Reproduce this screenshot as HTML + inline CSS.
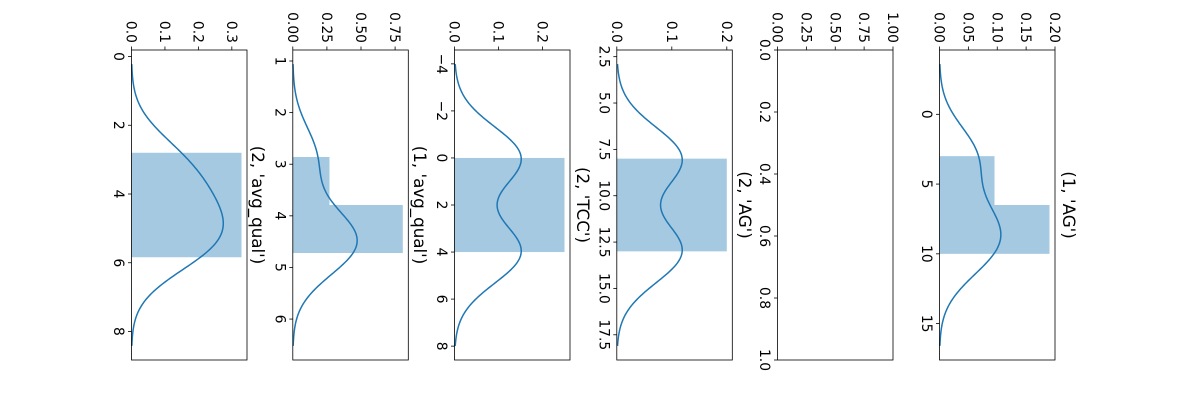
<!DOCTYPE html>
<html><head><meta charset="utf-8"><style>
html,body{margin:0;padding:0;background:#fff;width:1200px;height:400px;overflow:hidden}
text{font-family:"DejaVu Sans","Liberation Sans",sans-serif;fill:#000}
</style></head><body>
<svg id="chart" width="1200" height="400" xmlns="http://www.w3.org/2000/svg">
<g id="root" transform="translate(1200,0) rotate(90)"></g>
</svg>
<script>
// Data per panel
const titles = ["(1, 'AG')", "", "(2, 'AG')", "(2, 'TCC')", "(1, 'avg_qual')", "(2, 'avg_qual')"];
const samplesP1 = [3, 7.6, 10];
const samplesP2 = [];
const samplesP3 = [8, 13];
const samplesP4 = [0, 4];
const samplesP5 = [2.86, 4.2, 4.55, 4.72];
const samplesP6 = [2.8, 3.6, 4.3, 4.9, 5.4, 5.84];
const bandwidths = [2.2, 0, 1.7, 1.33, 0.6, 0.86];
const binCounts = [2, 0, 1, 1, 2, 1];
const xTickValues = [[0,5,10,15],[0,0.2,0.4,0.6,0.8,1.0],[2.5,5,7.5,10,12.5,15,17.5],[-4,-2,0,2,4,6,8],[1,2,3,4,5,6],[0,2,4,6,8]];
const xTickLabels = [["0","5","10","15"],["0.0","0.2","0.4","0.6","0.8","1.0"],["2.5","5.0","7.5","10.0","12.5","15.0","17.5"],["\u22124","\u22122","0","2","4","6","8"],["1","2","3","4","5","6"],["0","2","4","6","8"]];
const yTickValues = [[0,0.05,0.10,0.15,0.20],[0,0.25,0.5,0.75,1.0],[0,0.1,0.2],[0,0.1,0.2],[0,0.25,0.5,0.75],[0,0.1,0.2,0.3]];
const yTickLabels = [["0.00","0.05","0.10","0.15","0.20"],["0.00","0.25","0.50","0.75","1.00"],["0.0","0.1","0.2"],["0.0","0.1","0.2"],["0.00","0.25","0.50","0.75"],["0.0","0.1","0.2","0.3"]];
const allSamples = [samplesP1, samplesP2, samplesP3, samplesP4, samplesP5, samplesP6];

const NS = "http://www.w3.org/2000/svg";
const root = document.getElementById('root');
const panelTops = [145, 307, 467.7, 630, 791.7, 953];
const AX_L = 50, AX_W = 310, AX_H = 115.5;
function mk(tag, attrs, parent){const e=document.createElementNS(NS,tag);for(const k in attrs)e.setAttribute(k,attrs[k]);parent.appendChild(e);return e;}

allSamples.forEach((s, i) => {
  const g = mk('g', {}, root);
  
  
  const top = panelTops[i], bot = top + AX_H;
  let d0 = 0, d1 = 1, ymax = 1, kde = [], bars = [];
  if (s.length) {
    const bw = bandwidths[i];
    const mn = Math.min(...s), mx = Math.max(...s);
    const lo = mn - 3*bw, hi = mx + 3*bw;
    for (let k = 0; k <= 200; k++) {
      const x = lo + (hi-lo)*k/200;
      let d = 0;
      s.forEach(p => { d += Math.exp(-0.5*((x-p)/bw)**2) / (bw*Math.sqrt(2*Math.PI)); });
      kde.push([x, d / s.length]);
    }
    const nb = binCounts[i], w = (mx-mn)/nb;
    for (let b = 0; b < nb; b++) {
      const a = mn + b*w, e = a + w;
      const c = s.filter(p => p >= a && (b === nb-1 ? p <= e : p < e)).length;
      bars.push([a, e, c / (s.length*w)]);
    }
    const m = (hi-lo)*0.05; d0 = lo - m; d1 = hi + m;
    ymax = Math.max(...kde.map(p=>p[1]), ...bars.map(b=>b[2])) * 1.05;
  }
  const sx = v => AX_L + (v-d0)/(d1-d0)*AX_W;
  const sy = v => bot - v/ymax*AX_H;
  bars.forEach((b, j) => {
    const r = mk('rect', {x: sx(b[0]), y: sy(b[2]), width: sx(b[1])-sx(b[0]), height: bot - sy(b[2]), fill: '#1f77b4', 'fill-opacity': 0.4}, g);
    
    
  });
  if (kde.length) {
    const pl = mk('polyline', {points: kde.map(p => sx(p[0]).toFixed(2)+','+sy(p[1]).toFixed(2)).join(' '), fill: 'none', stroke: '#1f77b4', 'stroke-width': 1.5}, g);
    
    
  }
  const fr = mk('rect', {x: AX_L, y: top, width: AX_W, height: AX_H, fill: 'none', stroke: '#000', 'stroke-width': 0.8}, g);
  
  
  xTickValues[i].forEach((v, j) => {
    const x = sx(v);
    mk('line', {x1: x, x2: x, y1: bot, y2: bot+3.5, stroke: '#000', 'stroke-width': 0.8}, g);
    const t = mk('text', {x: x, y: bot+17.5, 'text-anchor': 'middle', 'font-size': '13.9px'}, g);
    t.textContent = xTickLabels[i][j];
    
    
  });
  yTickValues[i].forEach((v, j) => {
    const y = sy(v);
    mk('line', {x1: AX_L-3.5, x2: AX_L, y1: y, y2: y, stroke: '#000', 'stroke-width': 0.8}, g);
    const t = mk('text', {x: AX_L-7, y: y+5, 'text-anchor': 'end', 'font-size': '13.9px'}, g);
    t.textContent = yTickLabels[i][j];
    
    
  });
});
// titles placed above panels (rotated layout)
const titleYs = [137, null, 461, 623, 786, 948];
titles.forEach((tt, i) => {
  if (!tt) return;
  const t = mk('text', {x: AX_L + AX_W/2, y: titleYs[i], 'text-anchor': 'middle', 'font-size': '16.7px'}, root);
  t.textContent = tt;
  
  
});
</script>
</body></html>
